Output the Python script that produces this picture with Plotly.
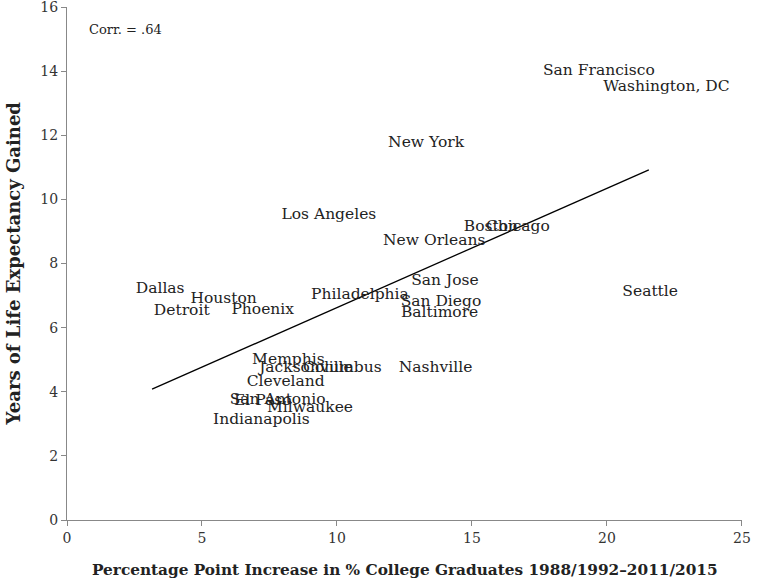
import plotly.graph_objects as go

cities = ["San Francisco", "Washington, DC", "New York", "Los Angeles", "Boston", "Chicago",
          "New Orleans", "San Jose", "Seattle", "Philadelphia", "San Diego", "Baltimore",
          "Dallas", "Houston", "Detroit", "Phoenix", "Memphis", "Jacksonville", "Columbus",
          "Nashville", "Cleveland", "San Antonio", "El Paso", "Milwaukee", "Indianapolis"]
college_increase = [19.7, 22.2, 13.3, 9.7, 15.7, 16.7,
                    13.6, 14.0, 21.6, 10.85, 13.85, 13.8,
                    3.45, 5.8, 4.25, 7.25, 8.2, 8.85, 10.2,
                    13.65, 8.1, 7.8, 7.25, 9.0, 7.2]
life_gain = [14.0, 13.5, 11.75, 9.5, 9.15, 9.15,
             8.7, 7.45, 7.1, 7.0, 6.8, 6.45,
             7.2, 6.9, 6.5, 6.55, 5.0, 4.75, 4.75,
             4.75, 4.3, 3.75, 3.7, 3.5, 3.1]
trend_x = [3.15, 21.55]
trend_y = [4.08, 10.92]
corr_text = "Corr. = .64"
x_title = "Percentage Point Increase in % College Graduates 1988/1992–2011/2015"
y_title = "Years of Life Expectancy Gained"
x_ticks = [0, 5, 10, 15, 20, 25]
y_ticks = [0, 2, 4, 6, 8, 10, 12, 14, 16]

FONT = "DejaVu Serif"

fig = go.Figure()
fig.add_trace(go.Scatter(x=trend_x, y=trend_y, mode="lines",
                         line=dict(color="black", width=1.3), showlegend=False,
                         hoverinfo="skip"))
fig.add_trace(go.Scatter(x=college_increase, y=life_gain, mode="text", text=cities,
                         textposition="middle center",
                         textfont=dict(family=FONT, size=15.5, color="#222222"),
                         showlegend=False))
fig.add_annotation(x=0.75, y=15.3, text=corr_text, showarrow=False, xanchor="left",
                   yanchor="middle", font=dict(family=FONT, size=13, color="#222222"))
fig.add_annotation(xref="paper", yref="paper", x=0.5, y=0, yshift=-50, text="<b>" + x_title + "</b>",
                   showarrow=False, xanchor="center", yanchor="middle",
                   font=dict(family=FONT, size=15.3, color="#222222"))
fig.add_annotation(xref="paper", yref="paper", x=0, y=0.5, xshift=-54, text="<b>" + y_title + "</b>",
                   showarrow=False, xanchor="center", yanchor="middle", textangle=-90,
                   font=dict(family=FONT, size=18, color="#222222"))

axis_common = dict(showgrid=False, zeroline=False, showline=True, linecolor="#888888",
                   linewidth=1.3, ticks="outside", tickcolor="#888888", ticklen=5,
                   tickwidth=1.3, automargin=False, ticklabeloverflow="allow",
                   tickfont=dict(family=FONT, size=14, color="#333333"))
fig.update_xaxes(range=[0, 25.001], tickmode="array", tickvals=x_ticks, **axis_common)
fig.update_yaxes(range=[0, 16.001], tickmode="array", tickvals=y_ticks, **axis_common)
fig.update_layout(width=763, height=583, plot_bgcolor="white", paper_bgcolor="white",
                  margin=dict(l=67, r=21, t=7, b=63))
fig.write_html("out.html", config={"displayModeBar": False},
               post_script="document.body.style.margin='0';document.body.style.overflow='hidden';")
